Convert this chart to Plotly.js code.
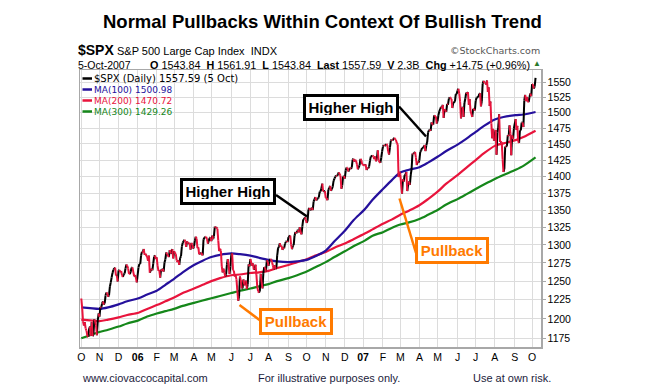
<!DOCTYPE html>
<html><head><meta charset="utf-8">
<script src="https://cdn.plot.ly/plotly-3.0.1.min.js"></script>
<style>html,body{margin:0;padding:0;background:#fff}#chart{width:646px;height:388px}</style>
</head><body><div id="chart"></div>
<script>
// ---- DATA ----
// S&P 500 daily closes, one row per week (Mon..Fri), null = market holiday
const firstMonday = '2005-10-03';
const closes = [
1226.7,1214.5,1196.4,1191.5,1195.9,
1187.3,1184.9,1177.7,1176.8,1186.6,
1190.1,1178.1,1195.8,1177.8,1179.6,
1199.4,1196.5,1191.4,1178.9,1198.4,
1207.0,1202.8,1215.4,1214.8,1220.1,
1222.8,1218.6,1220.7,1231.0,1234.7,
1233.8,1229.0,1231.2,1242.8,1248.3,
1254.9,1261.2,1265.6,null,1268.3,
1257.5,1257.5,1249.5,1264.7,1265.1,
1262.1,1263.7,1257.4,1255.8,1259.4,
1260.4,1267.4,1272.7,1270.9,1267.3,
1259.9,1259.6,1262.8,1268.1,1268.7,
null,1256.5,1258.2,1254.4,1248.3,
null,1268.8,1273.5,1273.5,1285.5,
1290.2,1289.7,1294.2,1286.1,1287.6,
null,1283.0,1277.9,1285.0,1261.5,
1263.8,1266.9,1264.7,1273.8,1283.7,
1285.2,1280.1,1282.5,1270.8,1264.0,
1265.0,1254.8,1265.7,1263.8,1266.9,
1262.9,1275.5,1280.0,1289.4,1287.2,
null,1283.0,1292.7,1287.8,1289.4,
1294.1,1281.0,1291.2,1289.1,1287.2,
1278.3,1275.9,1278.5,1272.2,1281.4,
1284.1,1297.5,1303.0,1305.3,1307.3,
1305.1,1297.2,1305.0,1301.7,1302.9,
1301.6,1293.2,1302.9,1300.3,1294.8,
1297.8,1305.9,1311.6,1309.0,1295.5,
1296.6,1286.6,1288.1,1289.1,null,
1285.3,1307.7,1309.9,1311.5,1311.3,
1308.1,1301.7,1305.4,1309.7,1310.6,
1305.2,1313.2,1308.1,1312.3,1325.8,
1324.7,1325.1,1322.9,1305.9,1291.2,
1294.5,1292.1,1270.3,1261.8,1267.0,
1262.1,1256.6,1258.6,1272.9,1280.2,
null,1260.0,1270.1,1285.7,1288.2,
1265.3,1263.9,1256.2,1257.9,1252.3,
1237.4,1223.7,1230.0,1256.2,1251.5,
1240.1,1240.1,1252.2,1245.6,1244.5,
1250.6,1239.2,1246.0,1272.9,1270.2,
1280.2,null,1270.9,1274.1,1265.5,
1267.3,1272.4,1258.6,1242.3,1236.2,
1234.5,1236.9,1259.8,1249.1,1240.3,
1260.9,1268.9,1268.4,1263.2,1278.6,
1276.7,1270.9,1277.4,1280.3,1279.4,
1275.8,1271.5,1265.9,1271.8,1266.7,
1268.2,1285.6,1295.4,1297.5,1302.3,
1297.5,1298.8,1293.0,1296.1,1295.1,
1301.8,1304.3,1305.4,1303.8,1311.0,
null,1313.3,1300.3,1294.0,1298.9,
1299.5,1313.0,1318.1,1316.3,1319.7,
1321.2,1317.6,1325.2,1318.0,1314.8,
1326.4,1336.3,1336.6,1339.2,1335.9,
1331.3,1334.1,1350.2,1353.2,1349.6,
1350.7,1353.4,1349.9,1362.8,1365.6,
1369.1,1364.1,1366.0,1367.0,1368.6,
1377.0,1377.4,1382.2,1389.1,1377.3,
1377.9,1377.9,1367.8,1367.3,1364.3,
1379.8,1382.8,1385.7,1378.3,1380.9,
1384.4,1393.2,1396.6,1399.8,1401.2,
1400.5,1402.8,1406.1,null,1400.9,
1381.4,1386.7,1399.5,1400.6,1396.7,
1409.1,1413.4,1413.0,1407.3,1409.8,
1413.0,1411.6,1413.2,1425.5,1427.1,
1422.5,1425.5,1423.5,1418.3,1410.8,
null,1416.9,1426.8,1424.7,1418.3,
null,null,1416.6,1418.3,1409.7,
1412.8,1412.1,1414.9,1423.8,1430.7,
null,1431.9,1430.6,1426.4,1430.5,
1423.0,1428.0,1440.1,1423.9,1422.2,
1420.6,1428.8,1438.2,1445.9,1448.4,
1447.0,1448.0,1450.0,1448.3,1438.1,
1433.4,1444.3,1455.3,1456.8,1455.5,
null,1459.7,1457.6,1456.4,1451.2,
1449.4,1399.0,1406.8,1403.2,1387.2,
1374.1,1395.4,1392.0,1401.9,1402.8,
1406.6,1378.0,1387.2,1392.3,1387.0,
1402.1,1410.9,1435.0,1434.5,1436.1,
1437.5,1428.6,1417.2,1422.5,1420.9,
1424.6,1437.8,1439.4,1443.8,null,
1444.6,1448.4,1438.9,1447.8,1452.9,
1468.3,1471.5,1472.5,1470.7,1484.4,
1480.9,1480.4,1495.4,1494.3,1494.1,
1482.4,1486.3,1495.9,1502.4,1505.6,
1509.5,1507.7,1512.6,1491.5,1505.9,
1503.2,1501.2,1514.1,1512.8,1522.8,
1525.1,1524.1,1522.3,1507.5,1515.7,
null,1518.1,1530.2,1530.6,1536.3,
1539.2,1531.0,1517.4,1490.7,1507.7,
1509.1,1493.0,1515.7,1523.0,1532.9,
1531.1,1533.7,1512.8,1522.2,1502.6,
1497.7,1492.9,1506.3,1505.7,1503.4,
1519.4,1524.9,null,1525.4,1530.4,
1531.9,1510.1,1518.8,1547.7,1552.5,
1549.5,1549.4,1546.2,1553.1,1534.1,
1541.6,1511.0,1518.1,1482.7,1459.0,
1473.9,1455.3,1465.8,1472.2,1433.1,
1467.7,1476.7,1497.5,1453.1,1453.6,
1452.9,1426.5,1406.7,1411.3,1445.9,
1445.6,1447.1,1464.1,1462.5,1479.4,
1466.8,1432.4,1463.8,1457.6,1474.0,
null,1489.4,1472.3,1478.6,1453.6,
1451.7,1471.5,1471.6,1484.0,1484.3,
1476.7,1519.8,1529.0,1518.8,1525.8,
1517.7,1517.2,1525.4,1531.4,1526.8,
1547.0,1546.6,1539.6,1542.8,1557.6
];

// Moving averages
const maDates = ['2005-10-03','2005-10-17','2005-11-01','2005-11-15','2005-12-01','2005-12-15',
'2006-01-03','2006-01-17','2006-02-01','2006-02-15','2006-03-01','2006-03-15','2006-04-03','2006-04-17',
'2006-05-01','2006-05-15','2006-06-01','2006-06-15','2006-07-03','2006-07-17','2006-08-01','2006-08-15',
'2006-09-01','2006-09-15','2006-10-02','2006-10-16','2006-11-01','2006-11-15','2006-12-01','2006-12-15',
'2007-01-03','2007-01-16','2007-02-01','2007-02-15','2007-03-01','2007-03-15','2007-04-02','2007-04-16',
'2007-05-01','2007-05-15','2007-06-01','2007-06-15','2007-07-02','2007-07-16','2007-08-01','2007-08-15',
'2007-09-04','2007-09-17','2007-10-05'];
const ma100 = [1215,1214,1213,1215,1219,1223,1227,1232,1237,1245,1253,1262,1272,1278,1283,1286,1288,1287,
1285,1282,1279,1277,1276,1277,1279,1284,1292,1305,1320,1335,1351,1365,1381,1394,1406,1410,1414,1421,
1430,1439,1449,1458,1469,1479,1489,1493,1496,1497,1501];
const ma200 = [1199,1198,1197,1199,1202,1205,1208,1213,1218,1223,1228,1234,1240,1245,1250,1254,1258,1259,
1261,1262,1264,1268,1272,1276,1280,1285,1290,1296,1302,1308,1316,1322,1330,1336,1343,1349,1357,1366,
1377,1389,1402,1413,1425,1436,1447,1451,1456,1461,1471];
const ma300 = [1175,1179,1183,1186,1190,1194,1198,1203,1207,1210,1213,1217,1221,1224,1227,1230,1234,1237,
1240,1243,1246,1250,1254,1258,1263,1269,1276,1283,1291,1298,1306,1313,1318,1324,1329,1332,1337,1343,
1350,1358,1366,1373,1381,1388,1396,1402,1410,1416,1429];

const monthTickDates = ['2005-10-03','2005-11-01','2005-12-01','2006-01-02','2006-02-01','2006-03-01',
'2006-04-03','2006-05-01','2006-06-01','2006-07-03','2006-08-01','2006-09-01','2006-10-02','2006-11-01',
'2006-12-01','2007-01-01','2007-02-01','2007-03-01','2007-04-02','2007-05-01','2007-06-01','2007-07-02',
'2007-08-01','2007-09-03','2007-10-01'];
const monthTickLabels = ['O','N','D','<b>06</b>','F','M','A','M','J','J','A','S','O','N','D','<b>07</b>',
'F','M','A','M','J','J','A','S','O'];
const yTicks = [1175,1200,1225,1250,1275,1300,1325,1350,1375,1400,1425,1450,1475,1500,1525,1550];

// quote line of the header
const quoteLabels = ['O','H','L','Last','V','Chg'];
const quoteValues = ['1543.84','1561.91','1543.84','1557.59','2.3B','+14.75 (+0.96%)'];

// ---- BUILD ----
function weekdayDates(start, n){
  const out=[]; const d=new Date(start+'T00:00:00Z');
  while(out.length<n){ const wd=d.getUTCDay(); if(wd!==0&&wd!==6) out.push(d.toISOString().slice(0,10)); d.setUTCDate(d.getUTCDate()+1); }
  return out;
}
const allDates = weekdayDates(firstMonday, closes.length);
const dts=[], cls=[];
closes.forEach((c,i)=>{ if(c!==null){ dts.push(allDates[i]); cls.push(c); } });
const upX=[],upY=[],dnX=[],dnY=[];
for(let i=1;i<cls.length;i++){
  const up = cls[i]>=cls[i-1];
  (up?upX:dnX).push(dts[i-1],dts[i],null);
  (up?upY:dnY).push(cls[i-1],cls[i],null);
}

const BLUE='#25109c', RED='#e8143c', GREEN='#15871a', ORANGE='#ff7a00';
const L=80,R=541,T=70,B=347;
const fx=p=>(p-L)/(R-L), fy=p=>(B-p)/(B-T);

const traces=[
 {x:maDates,y:ma300,mode:'lines',line:{color:GREEN,width:2.2,shape:'spline',smoothing:0.8},hoverinfo:'skip'},
 {x:maDates,y:ma200,mode:'lines',line:{color:RED,width:2.2,shape:'spline',smoothing:0.8},hoverinfo:'skip'},
 {x:maDates,y:ma100,mode:'lines',line:{color:BLUE,width:2.2,shape:'spline',smoothing:0.8},hoverinfo:'skip'},
 {x:upX,y:upY,mode:'lines',line:{color:'#000',width:2},connectgaps:false,hoverinfo:'skip'},
 {x:dnX,y:dnY,mode:'lines',line:{color:RED,width:2},connectgaps:false,hoverinfo:'skip'}
];

const AR='Liberation Sans, Arial, sans-serif', DV='DejaVu Sans, Verdana, sans-serif';
function txt(t,x,y,o){ o=o||{}; return {xref:'paper',yref:'paper',x:fx(x),y:fy(y),text:t,showarrow:false,
  xanchor:o.xa||'left',yanchor:'middle',borderpad:0,font:{family:o.f||AR,size:o.s||11,color:o.c||'#000'}}; }
function box(t,cx,cy,w,color){ return {xref:'paper',yref:'paper',x:fx(cx),y:fy(cy),text:'<b>'+t+'</b>',showarrow:false,
  xanchor:'center',yanchor:'middle',bgcolor:'#fff',bordercolor:color,borderwidth:3,borderpad:3,width:w,height:15,
  font:{family:AR,size:15,color:color}}; }

const quoteText = quoteLabels.map((q,i)=>'<b>'+q+'</b> '+quoteValues[i]).join('\u00a0\u00a0');
const annotations=[
 txt('<b>Normal Pullbacks Within Context Of Bullish Trend</b>',322,22,{xa:'center',s:18.5}),
 txt('<b>$SPX</b>',77,50,{s:14}),
 txt('S&amp;P 500 Large Cap Index  INDX',116,51,{s:11}),
 txt('©StockCharts.com',541,51,{xa:'right',f:DV,s:9.5,c:'#555'}),
 txt('5-Oct-2007',77,65,{s:10.5}),
 txt(quoteText,531,65,{xa:'right',s:10.8}),
 txt('▲',537,64,{xa:'center',s:8,c:'#2a7a2a'}),
 txt('$SPX (Daily) 1557.59 (5 Oct)',93,78.5,{f:DV,s:10}),
 txt('MA(100) 1500.98',93,89.5,{f:DV,s:9,c:BLUE}),
 txt('MA(200) 1470.72',93,100.5,{f:DV,s:9,c:RED}),
 txt('MA(300) 1429.26',93,111.5,{f:DV,s:9,c:GREEN}),
 box('Higher High',228,191,84,'#000'),
 box('Higher High',351,108,84,'#000'),
 box('Pullback',296,321.5,62,ORANGE),
 box('Pullback',452,250.5,62,ORANGE)
];
['www.ciovaccocapital.com','For illustrative purposes only.','Use at own risk.'].forEach((t,i)=>
  annotations.push(txt(t,[81,257,472][i],378,{c:'#1c1c3c'})));

function seg(x0,y0,x1,y1,c,w){ return {type:'line',xref:'paper',yref:'paper',x0:fx(x0),y0:fy(y0),x1:fx(x1),y1:fy(y1),line:{color:c,width:w}}; }
const shapes=[
 seg(82.5,78.5,92,78.5,'#000',2.5),
 seg(82.5,89.5,92,89.5,BLUE,2.5),
 seg(82.5,100.5,92,100.5,RED,2.5),
 seg(82.5,111.5,92,111.5,GREEN,2.5),
 seg(276,195,307,216.5,'#000',2.5),
 seg(399,106.5,426,136.5,'#000',2.5),
 seg(239.5,305,259.5,320,ORANGE,2.5),
 seg(399.5,198.5,416,253,ORANGE,2.5)
];

const layout={
 width:646,height:388,margin:{l:L,r:646-R,t:T,b:388-B},
 paper_bgcolor:'#fff',plot_bgcolor:'#fff',showlegend:false,hovermode:false,
 xaxis:{type:'date',range:['2005-09-29 12:00','2007-10-15 07:00'],rangebreaks:[{bounds:['sat','mon']}],
   tickvals:monthTickDates,ticktext:monthTickLabels,tickangle:0,ticks:'',showgrid:true,gridcolor:'#dcdcdc',gridwidth:1,
   showline:true,mirror:true,linecolor:'#a8a8a8',linewidth:1.5,zeroline:false,
   tickfont:{family:AR,size:10.5,color:'#000'}},
 yaxis:{type:'log',range:[Math.log10(1164),Math.log10(1570.8)],side:'right',tickvals:yTicks,ticktext:yTicks.map(String),
   ticks:'outside',ticklen:3,tickcolor:'#a8a8a8',showgrid:true,gridcolor:'#dcdcdc',gridwidth:1,
   showline:true,mirror:true,linecolor:'#a8a8a8',linewidth:1.5,zeroline:false,
   tickfont:{family:AR,size:10.5,color:'#000'}},
 annotations:annotations,shapes:shapes
};
Plotly.newPlot('chart',traces,layout,{displayModeBar:false,staticPlot:true});
</script></body></html>
